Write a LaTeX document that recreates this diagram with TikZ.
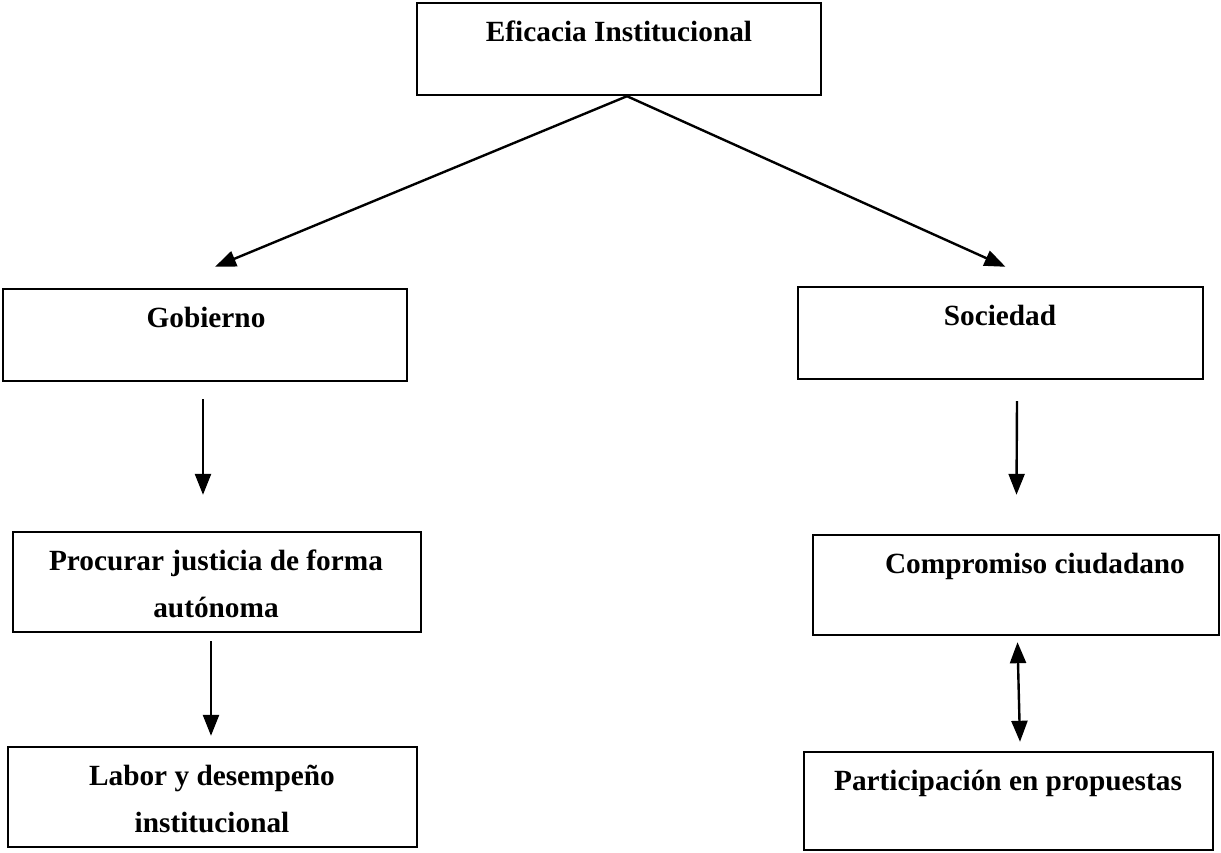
\documentclass[tikz,border=0pt]{standalone}
\usepackage{fontspec}
\setmainfont{Liberation Serif}
\usetikzlibrary{arrows.meta,calc,fit}
\begin{document}
\begin{tikzpicture}[x=1pt,y=-1pt,
  box/.style={draw=black, line width=2.4pt, inner sep=0pt, rectangle},
  lbl/.style={inner sep=0pt, anchor=base, font=\fontsize{29.3}{47}\selectfont\bfseries},
  arr/.style={line width=2.4pt, -{Triangle[length=21pt,width=16pt]}},
  darr/.style={line width=2.4pt, {Triangle[length=21pt,width=16pt]}-{Triangle[length=21pt,width=16pt]}}]
\useasboundingbox[fill=white] (0,0) rectangle (1221,853);
% boxes
\node[box, fit={(417,3) (821,95)}] (top) {};
\node[box, fit={(3,289) (407,381)}] (gob) {};
\node[box, fit={(798,287) (1203,379)}] (soc) {};
\node[box, fit={(13,532) (421,632)}] (proc) {};
\node[box, fit={(813,535) (1219,635)}] (comp) {};
\node[box, fit={(8,747) (417,847)}] (lab) {};
\node[box, fit={(804,752) (1213,850)}] (part) {};
% texts
\node[lbl] (toptxt) at (619,42) {Eficacia Institucional};
\node[lbl] (gobtxt) at (206,327) {Gobierno};
\node[lbl] (soctxt) at (1000,325) {Sociedad};
\node[lbl] (proctxta) at (216,570) {Procurar justicia de forma};
\node[lbl] (proctxtb) at (216,617) {autónoma};
\node[lbl] (comptxt) at (1035,573) {Compromiso ciudadano};
\node[lbl] (labtxta) at (212,785) {Labor y desempeño};
\node[lbl] (labtxtb) at (212,832) {institucional};
\node[lbl] (parttxt) at (1008,790) {Participación en propuestas};
% connectors
\coordinate (apex) at ($(top.south)+(8,0)$);
\draw[arr] (apex) -- ($(gob.north)+(10,-21)$);
\draw[arr] (apex) -- ($(soc.north)+(5,-19)$);
\draw[arr] ($(gob.south)+(-2,17)$) -- ($(proc.north)+(-14,-36)$);
\draw[arr] ($(soc.south)+(16.5,21)$) -- ($(comp.north)+(0.5,-39)$);
\draw[arr] ($(proc.south)+(-6,8)$) -- ($(lab.north)+(-1.5,-10)$);
\draw[darr] ($(comp.south)+(1.5,6)$) -- ($(part.north)+(11.5,-9)$);
\end{tikzpicture}
\end{document}
